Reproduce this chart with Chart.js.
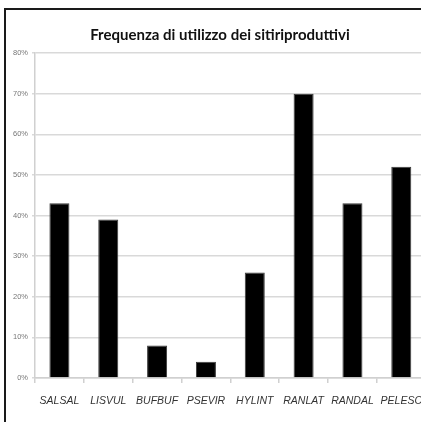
<!DOCTYPE html>
<html>
<head>
<meta charset="utf-8">
<script src="https://cdn.jsdelivr.net/npm/chart.js@4"></script>
<style>
  html, body { margin: 0; padding: 0; background: #fff; overflow: hidden; }
  #frame { position: absolute; left: 4px; top: 8px; width: 460px; height: 440px; border: 2px solid #1a1a1a; }
</style>
</head>
<body>
<div id="frame"><canvas id="myChart" width="428" height="420"></canvas></div>
<script>
var categories = ['SALSAL', 'LISVUL', 'BUFBUF', 'PSEVIR', 'HYLINT', 'RANLAT', 'RANDAL', 'PELESC'];
var frequenze = [43, 39, 8, 4, 26, 70, 43, 52];
var yTicks = [0, 10, 20, 30, 40, 50, 60, 70, 80];

var ctx = document.getElementById('myChart').getContext('2d');

var myChart = new Chart(ctx, {
  type: 'bar',
  data: {
    labels: categories,
    datasets: [{
      label: 'Frequenza',
      data: frequenze,
      backgroundColor: '#000',
      borderColor: '#3a3a3a',
      borderWidth: 1,
      categoryPercentage: 1,
      barPercentage: 0.41
    }]
  },
  options: {
    responsive: false,
    animation: false,
    layout: { padding: { left: 0, right: 0, top: 0, bottom: 0 } },
    plugins: {
      legend: { display: false },
      tooltip: { enabled: false },
      title: {
        display: true,
        text: 'Frequenza di utilizzo dei sitiriproduttivi',
        color: '#111',
        font: { family: 'Lato', size: 15, weight: 'bold' },
        padding: { top: 16, bottom: 9 }
      }
    },
    scales: {
      y: {
        min: 0,
        max: 80,
        afterBuildTicks: function(scale) {
          scale.ticks = yTicks.map(v => ({ value: v }));
        },
        afterFit: function(scale) { scale.width = 29; },
        ticks: {
          color: '#777',
          padding: 4,
          font: { family: 'Liberation Sans', size: 7.5 },
          callback: v => v + '%'
        },
        grid: { color: '#d9d9d9', lineWidth: 1.5, tickLength: 3 },
        border: { color: '#d0d0d0', width: 1.5 }
      },
      x: {
        afterFit: function(scale) { scale.height = 52; },
        ticks: {
          color: '#333',
          padding: 12,
          maxRotation: 0,
          autoSkip: false,
          font: { family: 'Liberation Sans', size: 10.5, style: 'italic' }
        },
        grid: { drawOnChartArea: false, drawTicks: true, tickLength: 5, color: '#d0d0d0', lineWidth: 1.5 },
        border: { color: '#d0d0d0', width: 1.5 }
      }
    }
  }
});
</script>
</body>
</html>
